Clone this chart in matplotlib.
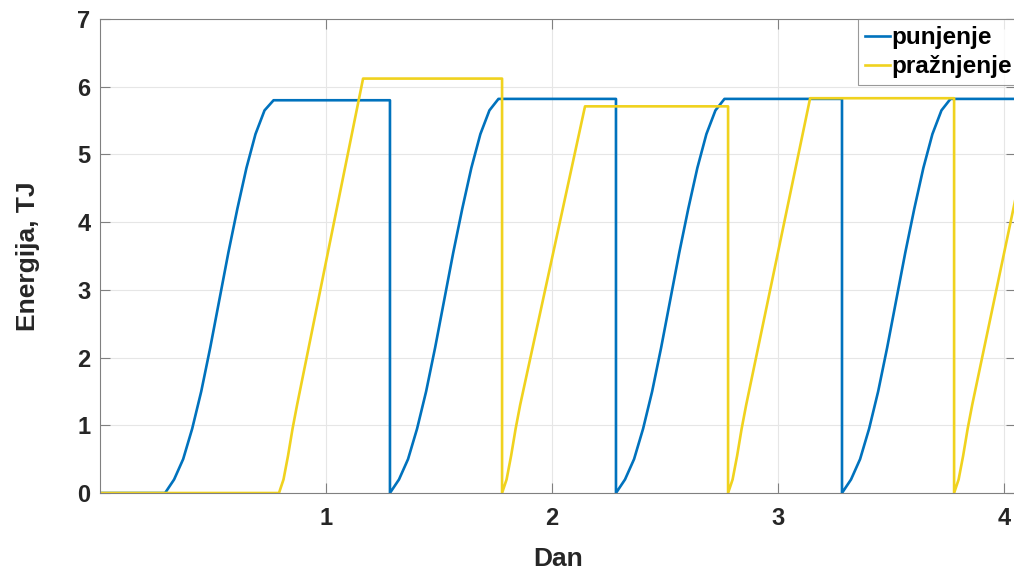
import numpy as np
import matplotlib.pyplot as plt

# punjenje (charging) - day / energy in TJ
dan_punjenje = [0.0, 0.288, 0.328, 0.368, 0.408, 0.448, 0.488, 0.528, 0.568, 0.608, 0.648, 0.688, 0.728, 0.768,
                1.283, 1.283, 1.323, 1.363, 1.403, 1.443, 1.483, 1.523, 1.563, 1.603, 1.643, 1.683, 1.723, 1.763,
                2.283, 2.283, 2.323, 2.363, 2.403, 2.443, 2.483, 2.523, 2.563, 2.603, 2.643, 2.683, 2.723, 2.763,
                3.283, 3.283, 3.323, 3.363, 3.403, 3.443, 3.483, 3.523, 3.563, 3.603, 3.643, 3.683, 3.723, 3.763,
                4.2]
e_punjenje = [0.0, 0.0, 0.2, 0.5, 0.95, 1.5, 2.15, 2.85, 3.55, 4.2, 4.8, 5.3, 5.65, 5.80,
              5.80, 0.0, 0.2, 0.5, 0.95, 1.5, 2.15, 2.85, 3.55, 4.2, 4.8, 5.3, 5.65, 5.82,
              5.82, 0.0, 0.2, 0.5, 0.95, 1.5, 2.15, 2.85, 3.55, 4.2, 4.8, 5.3, 5.65, 5.82,
              5.82, 0.0, 0.2, 0.5, 0.95, 1.5, 2.15, 2.85, 3.55, 4.2, 4.8, 5.3, 5.65, 5.82,
              5.82]

# praznjenje (discharging)
dan_praznjenje = [0.0, 0.792, 0.812, 0.832, 0.852, 0.872, 1.164,
                  1.779, 1.779, 1.799, 1.819, 1.839, 1.859, 2.146,
                  2.779, 2.779, 2.799, 2.819, 2.839, 2.859, 3.142,
                  3.779, 3.779, 3.799, 3.819, 3.839, 3.859, 4.144]
e_praznjenje = [0.0, 0.0, 0.2, 0.55, 0.95, 1.3, 6.12,
                6.12, 0.0, 0.2, 0.55, 0.95, 1.3, 5.71,
                5.71, 0.0, 0.2, 0.55, 0.95, 1.3, 5.83,
                5.83, 0.0, 0.2, 0.55, 0.95, 1.3, 5.83]

x_ticks = [1, 2, 3, 4]
y_ticks = [0, 1, 2, 3, 4, 5, 6, 7]

plt.rcParams['font.family'] = ['Liberation Sans', 'DejaVu Sans']
plt.rcParams['font.weight'] = 'bold'

fig = plt.figure(figsize=(10.14, 5.72), dpi=100)
ax = fig.add_axes([0.0986, 0.1381, 0.9034, 0.8287])

ax.plot(dan_punjenje, e_punjenje, color='#0072BD', lw=1.9, label='punjenje')
ax.plot(dan_praznjenje, e_praznjenje, color='#F0D21E', lw=1.9, label='pražnjenje')

ax.set_xlim(0, 4.053)
ax.set_ylim(0, 7)
ax.set_xticks(x_ticks)
ax.set_yticks(y_ticks)
ax.grid(True, color='#E6E6E6', lw=0.8)
ax.set_axisbelow(True)
ax.tick_params(direction='in', length=7, width=0.8, color='#808080', labelsize=17,
               labelcolor='#262626')
ax.tick_params(axis='x', pad=10)
ax.tick_params(axis='y', pad=7)
ax.tick_params(top=True, right=True)
for s in ax.spines.values():
    s.set_color('#808080')
    s.set_linewidth(0.8)

ax.set_xlabel('Dan', fontsize=19, fontweight='bold', color='#262626', labelpad=12)
ax.set_ylabel('Energija, TJ', fontsize=19, fontweight='bold', color='#262626', labelpad=27)

leg = ax.legend(loc='upper left', bbox_to_anchor=(858 / 1014, 1 - 19 / 572),
                bbox_transform=fig.transFigure, fontsize=17.5, frameon=True, fancybox=False,
                handlelength=1.0, handletextpad=0.08, labelspacing=0.24, borderpad=0.3,
                borderaxespad=0)
leg.get_frame().set_edgecolor('#808080')
leg.get_frame().set_linewidth(0.8)
for t in leg.get_texts():
    t.set_fontweight('bold')
    t.set_color('black')

fig.savefig('out.png', dpi=100)
